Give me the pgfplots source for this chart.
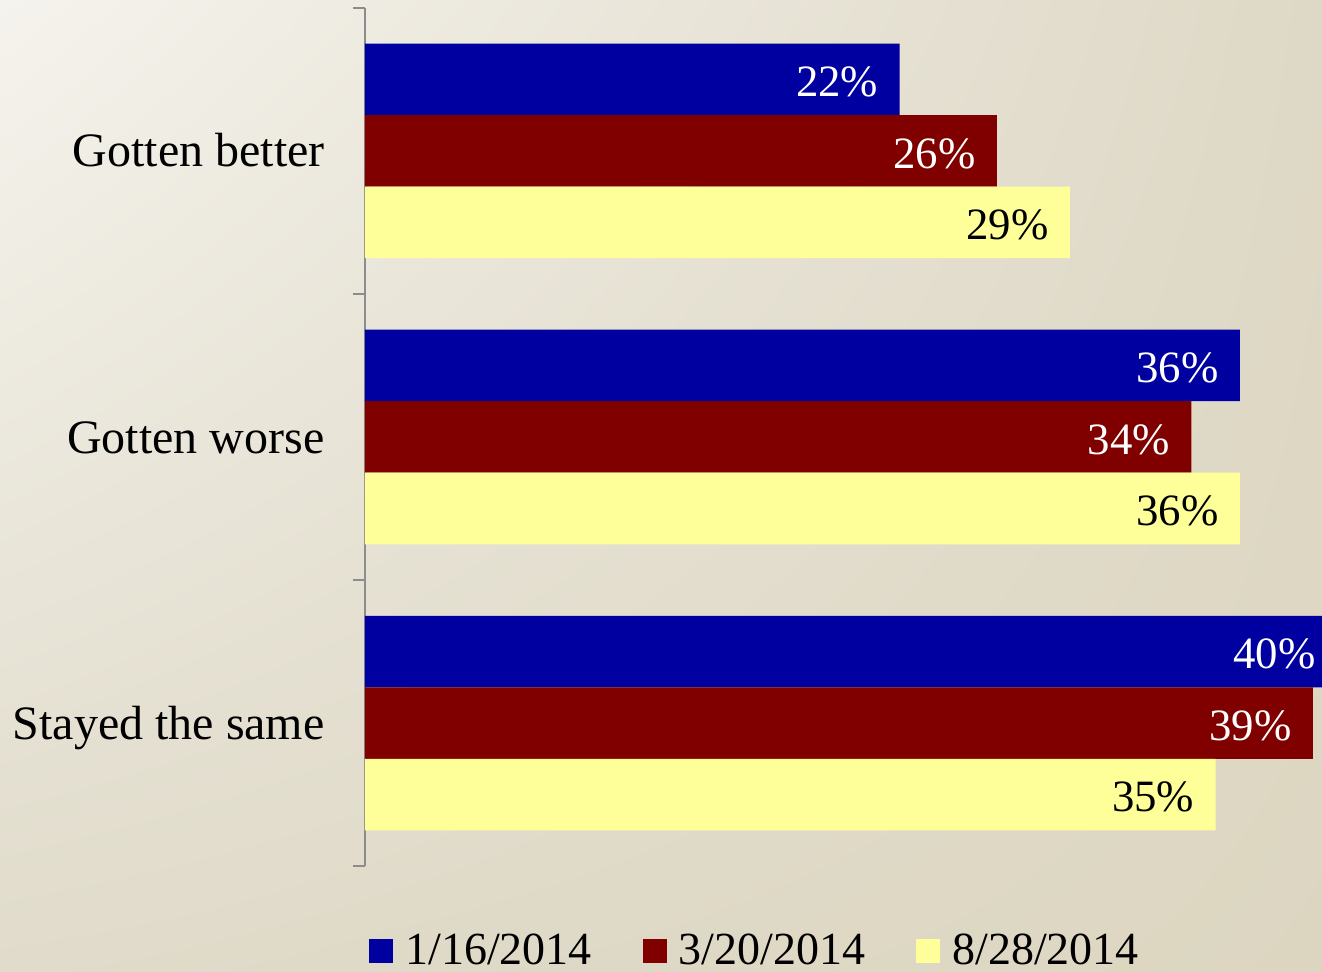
\documentclass[border=0pt]{standalone}
\usepackage{pgfplots}
\pgfplotsset{compat=1.18}
\usetikzlibrary{shadings}
\usepackage{fontspec}
\setmainfont{Liberation Serif}
\definecolor{cblue}{RGB}{0,0,160}
\definecolor{cred}{RGB}{128,0,0}
\definecolor{cyel}{RGB}{255,255,153}
\definecolor{bgUL}{RGB}{245,243,237}
\definecolor{bgUR}{RGB}{222,216,198}
\definecolor{bgLL}{RGB}{224,219,202}
\definecolor{bgLR}{RGB}{220,214,193}
\definecolor{axgray}{RGB}{140,140,140}
\begin{document}
\begin{tikzpicture}
\shade[upper left=bgUL, upper right=bgUR, lower left=bgLL, lower right=bgLR] (0,0) rectangle (661pt,486pt);
\useasboundingbox (0,0) rectangle (661pt,486pt);
\begin{axis}[
  at={(182.5pt,53pt)}, anchor=south west,
  scale only axis, width=478.5pt, height=429pt,
  clip=false,
  xbar, bar width=0.25, bar shift=0pt,
  xmin=0, xmax=39.38, ymin=-0.5, ymax=2.5, y dir=reverse,
  enlargelimits=false,
  axis x line=none, axis y line*=left,
  axis line style={draw=axgray, line width=0.8pt, -},
  ytick={0,1,2},
  yticklabels={Gotten better, Gotten worse, Stayed the same},
  major tick length=0pt,
  minor ytick={-0.5,0.5,1.5,2.5}, minor tick length=6pt, tick align=outside,
  tick style={draw=axgray, line width=0.8pt},
  yticklabel style={font=\fontsize{24}{28}\selectfont, anchor=base east, inner sep=0pt, xshift=-20pt, yshift=-8pt},
  point meta=x, /pgf/number format/assume math mode=true,
  nodes near coords={\pgfmathprintnumber{\pgfplotspointmeta}\%},
  nodes near coords style={font=\fontsize{22.4}{26}\selectfont, anchor=base east, inner sep=0pt, xshift=-10.5pt, yshift=-8.6pt},
  legend image code/.code={\fill[#1,draw=none] (0pt,-6pt) rectangle (12pt,6pt);},
  legend style={at={(0.004,-0.099)}, anchor=west, draw=none, fill=none, inner sep=0pt,
    font=\fontsize{23}{27}\selectfont, legend columns=3,
    nodes={inner sep=0pt},
    /tikz/every odd column/.append style={column sep=6pt},
    /tikz/every even column/.append style={column sep=25.5pt}},
  legend cell align=left,
]
\addplot[fill=cblue, draw=none, nodes near coords style={text=white}] coordinates {(22,-0.25) (36,0.75) (40,1.75)};
\addplot[fill=cred, draw=none, nodes near coords style={text=white}] coordinates {(26,0) (34,1) (39,2)};
\addplot[fill=cyel, draw=none, nodes near coords style={text=black}] coordinates {(29,0.25) (36,1.25) (35,2.25)};
\legend{1/16/2014, 3/20/2014, 8/28/2014}
\end{axis}
\end{tikzpicture}
\end{document}
